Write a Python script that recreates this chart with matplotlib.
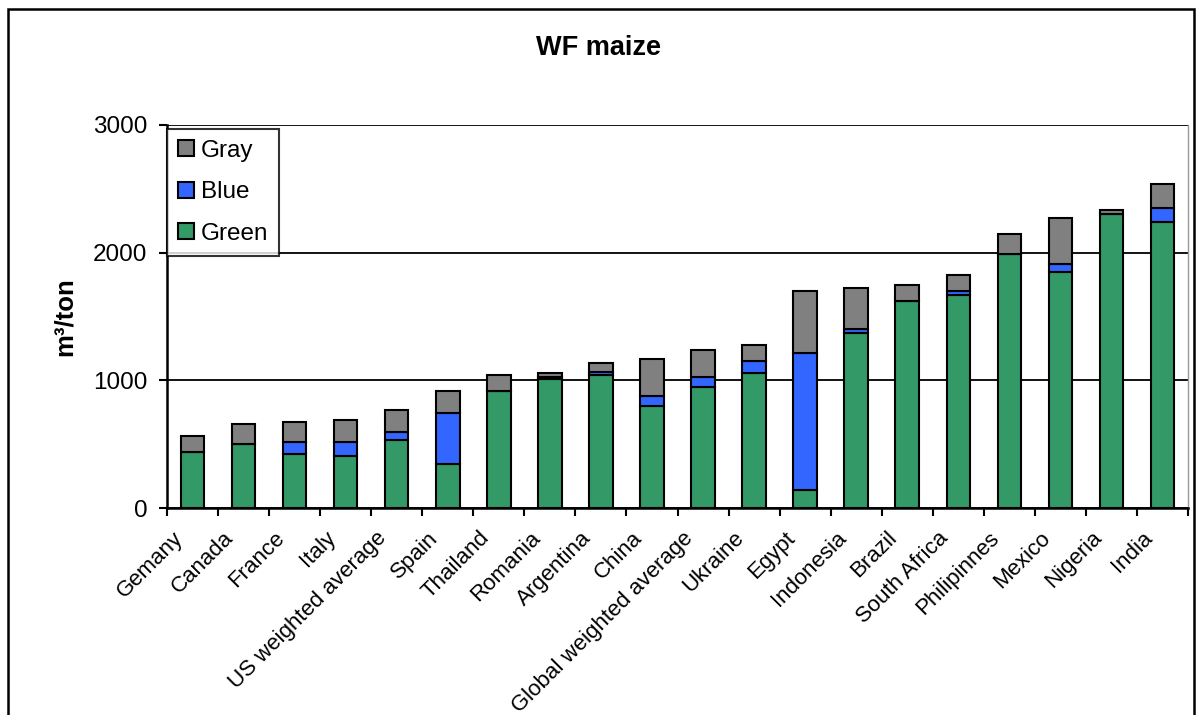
import matplotlib.pyplot as plt
from matplotlib.patches import Rectangle
import numpy as np

plt.rcParams['font.family'] = ['Liberation Sans', 'DejaVu Sans']

# WF maize, m3/ton
paises = ['Gemany', 'Canada', 'France', 'Italy', 'US weighted average', 'Spain',
          'Thailand', 'Romania', 'Argentina', 'China', 'Global weighted average',
          'Ukraine', 'Egypt', 'Indonesia', 'Brazil', 'South Africa', 'Philipinnes',
          'Mexico', 'Nigeria', 'India']
green = [438, 501, 423, 407, 532, 345, 916, 1010, 1041, 799, 948, 1057, 141, 1370,
         1621, 1668, 1989, 1848, 2302, 2240]
blue = [0, 0, 94, 110, 63, 399, 0, 20, 22, 78, 78, 94, 1073, 32, 0, 31, 0, 63, 0, 109]
gray = [126, 157, 156, 172, 172, 172, 125, 27, 72, 290, 211, 125, 485, 321, 125, 126,
        157, 360, 32, 188]

fig = plt.figure(figsize=(11.97, 7.15), dpi=100)
ax = fig.add_axes([0.1395, 0.2895, 0.853, 0.5357])

x = np.arange(len(paises))
green = np.array(green)
blue = np.array(blue)
gray = np.array(gray)
kw = dict(width=0.46, edgecolor='black', linewidth=1.5, zorder=3)
b1 = ax.bar(x, green, color='#339966', label='Green', **kw)
b2 = ax.bar(x, blue, bottom=green, color='#3366FF', label='Blue', **kw)
b3 = ax.bar(x, gray, bottom=green + blue, color='#808080', label='Gray', **kw)

ax.set_xlim(-0.5, len(paises) - 0.5)
ax.set_ylim(0, 3000)
ax.set_yticks([0, 1000, 2000, 3000])
ax.yaxis.grid(True, color='black', linewidth=1.3, zorder=0)
ax.set_axisbelow(True)

# ticks between categories, labels under bars
ax.set_xticks(np.arange(-0.5, len(paises), 1.0))
ax.set_xticklabels([])
ax.set_xticks(x - 0.4, minor=True)
ax.set_xticklabels(paises, minor=True, rotation=45, ha='right',
                   rotation_mode='anchor', fontsize=16)
ax.tick_params(axis='x', which='minor', length=0, pad=14)
ax.tick_params(axis='x', which='major', length=6, width=1.5, direction='out')
ax.tick_params(axis='y', length=6, width=1.5, direction='out', labelsize=17.5, pad=8)

for s in ['left', 'bottom']:
    ax.spines[s].set_linewidth(1.8)
ax.spines['top'].set_visible(False)
ax.spines['right'].set_color('#999999')
ax.spines['right'].set_linewidth(1.0)

ax.set_ylabel('m³/ton', fontsize=18.5, fontweight='bold', labelpad=12)
fig.text(0.5, 0.933, 'WF maize', ha='center', va='center', fontsize=19.5, fontweight='bold')

leg = ax.legend(handles=[b3, b2, b1], loc='upper left', bbox_to_anchor=(0.0, 0.99),
                fontsize=17.5, frameon=True, fancybox=False, borderaxespad=0,
                handlelength=0.65, handleheight=0.65, handletextpad=0.3,
                labelspacing=0.8, borderpad=0.45)
leg.get_frame().set_edgecolor('black')
leg.get_frame().set_linewidth(1.5)
leg.set_zorder(5)

# outer chart frame
fig.patches.append(Rectangle((8 / 1197, -0.05), 1186 / 1197, 1.05 - 9 / 715,
                             transform=fig.transFigure, fill=False,
                             edgecolor='black', linewidth=1.8))

fig.savefig('out.png', dpi=100)
